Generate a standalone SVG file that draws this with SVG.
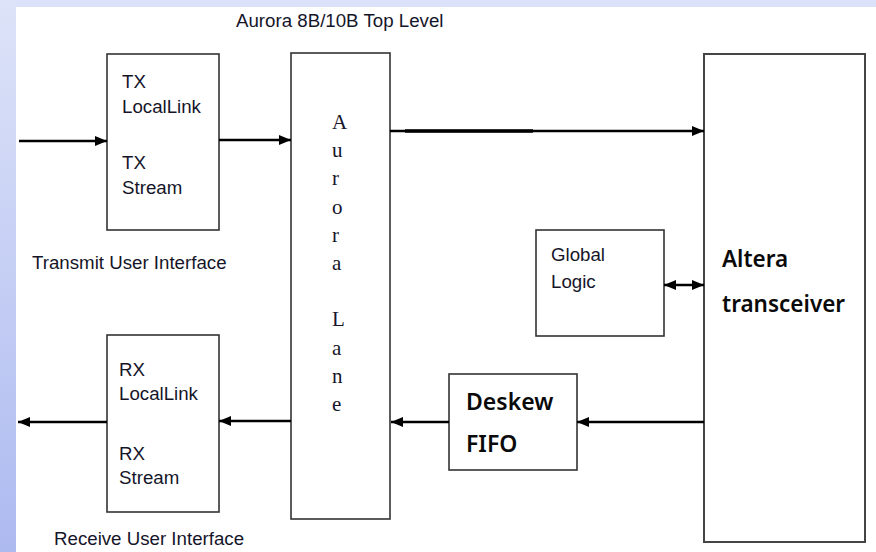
<svg xmlns="http://www.w3.org/2000/svg" width="876" height="552" viewBox="0 0 876 552">
<defs>
<linearGradient id="side" x1="0" y1="0" x2="0" y2="1">
<stop offset="0" stop-color="#dde3f8"/>
<stop offset="1" stop-color="#adbaf0"/>
</linearGradient>
<marker id="ah" viewBox="0 0 12 10" refX="12" refY="5" markerWidth="12" markerHeight="10" markerUnits="userSpaceOnUse" orient="auto-start-reverse">
<path d="M0,0 L12,5 L0,10 z" fill="#000"/>
</marker>
<style>
.box{fill:#fff;stroke:#333;stroke-width:1.6}
.big{fill:#fff;stroke:#444;stroke-width:2}
.con{stroke:#000;stroke-width:2.5;fill:none}
.t{font-family:"Liberation Sans",Arial,sans-serif;font-size:18.7px;fill:#15152a}
.s{font-family:"Liberation Serif","Times New Roman",serif;font-size:21px;fill:#15152a}
.b{font-family:"Noto Sans","Open Sans",sans-serif;font-weight:600;fill:#0a0a0a}
</style>
</defs>
<rect x="0" y="0" width="876" height="552" fill="#fff"/>
<rect x="0" y="0" width="876" height="7" fill="#dbe1f8"/>
<rect x="0" y="0" width="16" height="552" fill="url(#side)"/>
<text class="t" x="236" y="27">Aurora 8B/10B Top Level</text>
<text class="t" x="32" y="269">Transmit User Interface</text>
<text class="t" x="54" y="545">Receive User Interface</text>
<g id="tx">
<rect class="box" x="107" y="54" width="112" height="176"/>
<text class="t" x="122" y="88">TX</text>
<text class="t" x="122" y="113">LocalLink</text>
<text class="t" x="122" y="169">TX</text>
<text class="t" x="122" y="194">Stream</text>
</g>
<g id="rx">
<rect class="box" x="107" y="335" width="112" height="177"/>
<text class="t" x="119" y="376">RX</text>
<text class="t" x="119" y="400">LocalLink</text>
<text class="t" x="119" y="460">RX</text>
<text class="t" x="119" y="484">Stream</text>
</g>
<g id="lane">
<rect class="box" x="291" y="53" width="99" height="466"/>
<text class="s" x="332" y="129">A</text>
<text class="s" x="332" y="157">u</text>
<text class="s" x="332" y="185">r</text>
<text class="s" x="332" y="214">o</text>
<text class="s" x="332" y="242">r</text>
<text class="s" x="332" y="270">a</text>
<text class="s" x="332" y="326">L</text>
<text class="s" x="332" y="355">a</text>
<text class="s" x="332" y="383">n</text>
<text class="s" x="332" y="411">e</text>
</g>
<g id="global">
<rect class="box" x="536" y="230" width="128" height="106"/>
<text class="t" x="551" y="261">Global</text>
<text class="t" x="551" y="288">Logic</text>
</g>
<g id="deskew">
<rect class="box" x="449" y="374" width="128" height="96"/>
<text class="b" x="466" y="410" font-size="23">Deskew</text>
<text class="b" x="466" y="452" font-size="23">FIFO</text>
</g>
<g id="altera">
<rect class="big" x="704" y="54" width="161" height="488"/>
<text class="b" x="722" y="267" font-size="22.5">Altera</text>
<text class="b" x="722" y="312" font-size="22.5">transceiver</text>
</g>
<g id="connectors">
<line class="con" x1="19" y1="141" x2="107" y2="141" marker-end="url(#ah)"/>
<line class="con" x1="219" y1="140" x2="291" y2="140" marker-end="url(#ah)"/>
<line class="con" x1="390" y1="131" x2="704" y2="131" marker-end="url(#ah)"/>
<line x1="405" y1="131" x2="533" y2="131" stroke="#000" stroke-width="3.5"/>
<line class="con" x1="664" y1="285" x2="704" y2="285" marker-start="url(#ah)" marker-end="url(#ah)"/>
<line class="con" x1="704" y1="422" x2="577" y2="422" marker-end="url(#ah)"/>
<line class="con" x1="449" y1="422" x2="391" y2="422" marker-end="url(#ah)"/>
<line class="con" x1="291" y1="421" x2="219" y2="421" marker-end="url(#ah)"/>
<line class="con" x1="107" y1="422" x2="18" y2="422" marker-end="url(#ah)"/>
</g>
</svg>
